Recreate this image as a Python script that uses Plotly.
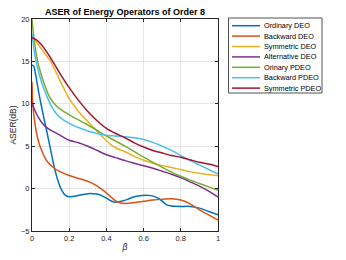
import plotly.graph_objects as go

# ---------------- data ----------------
names = ["Ordinary DEO", "Backward DEO", "Symmetric DEO", "Alternative DEO",
         "Orinary PDEO", "Backward PDEO", "Symmetric PDEO"]
colors = ["#0072BD", "#D95319", "#EDB120", "#7E2F8E", "#77AC30", "#4DBEEE", "#A2142F"]

beta_ord_deo = [0, 0.01, 0.02, 0.03, 0.04, 0.05, 0.065, 0.08, 0.1, 0.12, 0.14, 0.16, 0.18, 0.2,
                0.23, 0.26, 0.3, 0.33, 0.36, 0.39, 0.42, 0.45, 0.48, 0.51, 0.55, 0.59, 0.63,
                0.66, 0.69, 0.72, 0.75, 0.8, 0.85, 0.9, 0.95, 1.0]
aser_ord_deo = [14.6, 14.4, 13.4, 12.1, 10.9, 9.8, 8.2, 6.7, 4.6, 2.5, 0.9, -0.2, -0.8, -0.95,
                -0.9, -0.75, -0.6, -0.6, -0.7, -1.0, -1.4, -1.6, -1.5, -1.3, -0.95, -0.8, -0.8,
                -0.95, -1.3, -1.85, -2.05, -2.1, -2.1, -2.3, -2.7, -3.1]

beta_bwd_deo = [0, 0.003, 0.007, 0.012, 0.02, 0.03, 0.04, 0.05, 0.07, 0.09, 0.12, 0.15, 0.2,
                0.25, 0.3, 0.34, 0.37, 0.4, 0.43, 0.46, 0.5, 0.55, 0.6, 0.65, 0.7, 0.75, 0.8,
                0.85, 0.9, 0.95, 1.0]
aser_bwd_deo = [12.6, 10.6, 9.3, 8.3, 7.1, 6.0, 5.2, 4.6, 3.6, 3.0, 2.4, 2.0, 1.55,
                1.2, 0.85, 0.45, 0.0, -0.5, -1.1, -1.6, -1.75, -1.65, -1.5, -1.35, -1.25, -1.2,
                -1.35, -1.8, -2.5, -3.1, -3.7]

beta_sym_deo = [0, 0.02, 0.05, 0.08, 0.1, 0.13, 0.16, 0.2, 0.25, 0.3, 0.34, 0.38, 0.42, 0.46,
                0.5, 0.55, 0.6, 0.65, 0.7, 0.75, 0.8, 0.85, 0.9, 0.95, 1.0]
aser_sym_deo = [17.7, 17.4, 16.5, 15.6, 15.0, 13.7, 12.3, 10.6, 9.1, 7.9, 7.0, 6.1, 5.25, 4.7,
                4.35, 3.8, 3.35, 3.0, 2.7, 2.5, 2.25, 2.0, 1.8, 1.65, 1.5]

beta_alt_deo = [0, 0.01, 0.02, 0.04, 0.06, 0.08, 0.1, 0.125, 0.15, 0.2, 0.25, 0.3, 0.35, 0.4,
                0.45, 0.5, 0.55, 0.6, 0.65, 0.7, 0.75, 0.8, 0.85, 0.9, 0.95, 1.0]
aser_alt_deo = [10.1, 9.5, 9.0, 8.2, 7.6, 7.2, 6.9, 6.6, 6.3, 5.7, 5.4, 5.0, 4.5, 4.0,
                3.65, 3.3, 3.0, 2.7, 2.4, 2.05, 1.7, 1.3, 0.8, 0.3, -0.3, -1.0]

beta_ord_pdeo = [0, 0.005, 0.015, 0.03, 0.05, 0.07, 0.09, 0.11, 0.125, 0.15, 0.2, 0.25, 0.3,
                 0.34, 0.4, 0.45, 0.5, 0.55, 0.6, 0.65, 0.7, 0.75, 0.8, 0.85, 0.9, 0.95, 1.0]
aser_ord_pdeo = [20.0, 18.8, 17.0, 15.0, 13.4, 12.1, 11.0, 10.3, 9.9, 9.4, 8.7, 8.1, 7.5,
                 7.0, 6.2, 5.6, 5.0, 4.35, 3.7, 3.1, 2.5, 1.95, 1.45, 1.0, 0.6, 0.2, -0.2]

beta_bwd_pdeo = [0, 0.01, 0.02, 0.04, 0.06, 0.08, 0.1, 0.125, 0.15, 0.2, 0.25, 0.3, 0.35, 0.4,
                 0.45, 0.5, 0.55, 0.6, 0.65, 0.7, 0.75, 0.8, 0.85, 0.9, 0.95, 1.0]
aser_bwd_pdeo = [18.3, 16.5, 15.2, 13.4, 12.0, 10.9, 9.9, 9.0, 8.4, 7.7, 7.2, 6.8, 6.5, 6.3,
                 6.2, 6.1, 6.0, 5.8, 5.45, 5.0, 4.5, 3.9, 3.3, 2.8, 2.25, 1.7]

beta_sym_pdeo = [0, 0.02, 0.05, 0.08, 0.1, 0.125, 0.15, 0.2, 0.25, 0.3, 0.35, 0.4, 0.45, 0.5,
                 0.55, 0.6, 0.65, 0.7, 0.75, 0.8, 0.85, 0.9, 0.95, 1.0]
aser_sym_pdeo = [17.8, 17.6, 17.0, 16.1, 15.4, 14.5, 13.6, 11.9, 10.4, 9.1, 8.0, 7.1, 6.5, 6.0,
                 5.4, 4.9, 4.5, 4.2, 3.9, 3.7, 3.4, 3.1, 2.9, 2.6]

x_ticks = [0, 0.2, 0.4, 0.6, 0.8, 1]
x_ticklabels = ["0", "0.2", "0.4", "0.6", "0.8", "1"]
y_ticks = [-5, 0, 5, 10, 15, 20]

series_x = [beta_ord_deo, beta_bwd_deo, beta_sym_deo, beta_alt_deo,
            beta_ord_pdeo, beta_bwd_pdeo, beta_sym_pdeo]
series_y = [aser_ord_deo, aser_bwd_deo, aser_sym_deo, aser_alt_deo,
            aser_ord_pdeo, aser_bwd_pdeo, aser_sym_pdeo]

# ---------------- figure ----------------
OFF = 8                      # default page body margin in the browser
W, H = 346 - OFF, 260 - OFF  # figure size so that it fills the window
L, R, T, B = 32, 218, 19, 231  # plot area in page pixels
FONT = "Liberation Sans, Arial, Helvetica, sans-serif"
AX = "#262626"

fig = go.Figure()
for xs, ys, nm, c in zip(series_x, series_y, names, colors):
    fig.add_trace(go.Scatter(x=xs, y=ys, name=nm, mode="lines",
                             line=dict(color=c, width=1.5, shape="spline", smoothing=0.6),
                             showlegend=False))

def px(x):
    return (x - L) / (R - L)

def py(y):
    return (B - y) / (B - T)

# manual MATLAB-style legend
lx0, lx1, ly0, ly1 = 228.5, 322, 18, 93
fig.add_shape(type="rect", xref="paper", yref="paper",
              x0=px(lx0), x1=px(lx1), y0=py(ly1), y1=py(ly0),
              line=dict(color=AX, width=0.8), fillcolor="white", layer="above")
for i, (nm, c) in enumerate(zip(names, colors)):
    yy = 25.7 + i * 10.4
    fig.add_shape(type="line", xref="paper", yref="paper",
                  x0=px(232), x1=px(260), y0=py(yy), y1=py(yy),
                  line=dict(color=c, width=1.5), layer="above")
    fig.add_annotation(xref="paper", yref="paper", x=px(261.5), y=py(yy),
                       text=nm, showarrow=False, xanchor="left", yanchor="middle",
                       font=dict(family=FONT, size=7.3, color="black"))

axis_common = dict(showline=True, linecolor=AX, linewidth=1, mirror="ticks",
                   ticks="inside", ticklen=3, tickcolor=AX, automargin=False,
                   showgrid=True, gridcolor="#e6e6e6", gridwidth=1, zeroline=False,
                   tickfont=dict(family=FONT, size=7.5, color=AX))

fig.update_layout(
    width=W, height=H,
    margin=dict(l=L - OFF, r=346 - R, t=T - OFF, b=260 - B),
    paper_bgcolor="white", plot_bgcolor="white",
    title=dict(text="<b>ASER of Energy Operators of Order 8</b>",
               x=0.5, xref="paper", xanchor="center",
               y=1 - (11.7 - OFF) / H, yref="container", yanchor="middle",
               font=dict(family=FONT, size=9, color="black")),
    xaxis=dict(range=[0, 1], tickvals=x_ticks, ticktext=x_ticklabels,
               title=dict(text="<i>β</i>", standoff=2,
                          font=dict(family=FONT, size=8.5, color=AX)),
               **axis_common),
    yaxis=dict(range=[-5, 20], tickvals=y_ticks,
               title=dict(text="ASER(dB)", standoff=4,
                          font=dict(family=FONT, size=8.5, color=AX)),
               **axis_common),
)

fig.write_html("out.html")
